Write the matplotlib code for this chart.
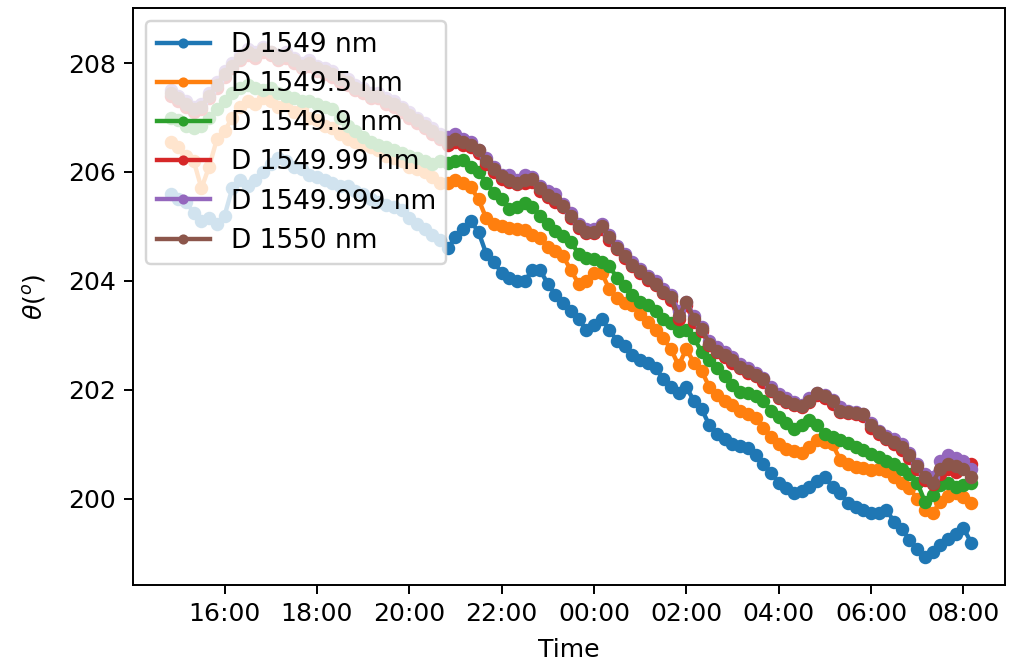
import matplotlib
matplotlib.use("Agg")
import matplotlib.pyplot as plt
import matplotlib.dates as mdates
import pandas as pd

# Sampling times: one reading every 10 minutes, overnight run
times = pd.date_range("2021-06-01 14:50", periods=105, freq="10min")

labels = ["D 1549 nm", "D 1549.5 nm", "D 1549.9 nm",
          "D 1549.99 nm", "D 1549.999 nm", "D 1550 nm"]

theta_1549 = [
    205.6, 205.5, 205.45, 205.25, 205.1, 205.15, 205.05, 205.2, 205.7, 205.85,
    205.75, 205.85, 206.0, 206.15, 206.25, 206.2, 206.1, 206.05, 205.95, 205.9,
    205.85, 205.8, 205.75, 205.75, 205.65, 205.6, 205.5, 205.45, 205.4, 205.35,
    205.3, 205.15, 205.05, 204.95, 204.85, 204.75, 204.6, 204.8, 204.95, 205.1,
    204.9, 204.5, 204.35, 204.15, 204.05, 204.0, 204.0, 204.2, 204.2, 203.95,
    203.75, 203.6, 203.45, 203.3, 203.1, 203.2, 203.3, 203.1, 202.9, 202.8,
    202.65, 202.55, 202.5, 202.4, 202.2, 202.05, 201.95, 202.05, 201.8, 201.65,
    201.35, 201.2, 201.1, 201.0, 200.97, 200.93, 200.8, 200.65, 200.48, 200.3,
    200.2, 200.1, 200.15, 200.22, 200.33, 200.4, 200.22, 200.1, 199.93, 199.85,
    199.8, 199.75, 199.74, 199.8, 199.58, 199.45, 199.25, 199.08, 198.94, 199.03,
    199.15, 199.27, 199.35, 199.47, 199.2,
]

theta_1549_5 = [
    206.55, 206.45, 206.3, 206.2, 205.7, 206.1, 206.6, 206.75, 207.0, 207.2,
    207.3, 207.25, 207.35, 207.3, 207.2, 207.25, 207.1, 207.15, 207.0, 206.95,
    206.85, 206.8, 206.7, 206.6, 206.55, 206.5, 206.45, 206.4, 206.3, 206.25,
    206.2, 206.1, 206.05, 206.0, 205.9, 205.8, 205.8, 205.85, 205.8, 205.72,
    205.5, 205.15, 205.05, 205.0, 204.98, 204.95, 204.93, 204.85, 204.78, 204.63,
    204.55, 204.45, 204.2, 203.95, 204.0, 204.15, 204.15, 203.85, 203.68, 203.6,
    203.55, 203.4, 203.25, 203.1, 202.95, 202.75, 202.45, 202.75, 202.5, 202.35,
    202.05, 201.9, 201.8, 201.72, 201.62, 201.55, 201.48, 201.3, 201.14, 201.0,
    200.92, 200.88, 200.84, 200.95, 201.08, 201.05, 201.0, 200.72, 200.65, 200.59,
    200.56, 200.53, 200.55, 200.52, 200.4, 200.3, 200.2, 200.0, 199.8, 199.74,
    199.95, 200.06, 200.1, 200.04, 199.93,
]

theta_1549_9 = [
    207.0, 206.95, 206.85, 206.8, 206.85, 207.0, 207.15, 207.3, 207.45, 207.55,
    207.6, 207.55, 207.5, 207.55, 207.45, 207.4, 207.35, 207.3, 207.3, 207.25,
    207.2, 207.15, 207.0, 206.85, 206.75, 206.65, 206.55, 206.5, 206.45, 206.4,
    206.35, 206.3, 206.25, 206.2, 206.15, 206.2, 206.17, 206.2, 206.22, 206.1,
    206.0, 205.8, 205.62, 205.5, 205.32, 205.35, 205.43, 205.36, 205.2, 205.05,
    204.92, 204.82, 204.72, 204.5, 204.42, 204.4, 204.35, 204.28, 204.05, 203.9,
    203.75, 203.62, 203.55, 203.45, 203.3, 203.22, 203.08, 203.1, 202.95, 202.7,
    202.55, 202.4, 202.25, 202.1, 201.97, 201.95, 201.88, 201.8, 201.62, 201.5,
    201.4, 201.28, 201.35, 201.45, 201.35, 201.2, 201.14, 201.08, 201.03, 200.95,
    200.9, 200.83, 200.77, 200.7, 200.64, 200.55, 200.45, 200.3, 199.95, 200.08,
    200.25, 200.3, 200.22, 200.25, 200.3,
]

theta_1549_99 = [
    207.4, 207.3, 207.2, 207.1, 207.15, 207.35, 207.55, 207.75, 207.9, 208.05,
    208.15, 208.1, 208.2, 208.15, 208.05, 208.1, 208.0, 207.9, 207.95, 207.85,
    207.8, 207.75, 207.65, 207.6, 207.5, 207.45, 207.35, 207.35, 207.25, 207.2,
    207.1, 207.0, 206.9, 206.8, 206.7, 206.6, 206.5, 206.55, 206.5, 206.45,
    206.35, 206.15, 206.0, 205.88, 205.82, 205.78, 205.8, 205.82, 205.65, 205.55,
    205.45, 205.35, 205.15, 204.98, 204.88, 204.88, 204.95, 204.75, 204.58, 204.42,
    204.28, 204.15, 204.02, 203.92, 203.78, 203.65, 203.3, 203.55, 203.25, 203.08,
    202.82, 202.7, 202.6, 202.5, 202.4, 202.32, 202.25, 202.15, 201.98, 201.85,
    201.78, 201.72, 201.68, 201.78, 201.9, 201.85, 201.75, 201.6, 201.58, 201.56,
    201.52, 201.3, 201.2, 201.1, 201.0, 200.9, 200.75, 200.55, 200.35, 200.28,
    200.45, 200.55, 200.5, 200.6, 200.65,
]

theta_1549_999 = [
    207.5, 207.4, 207.3, 207.2, 207.25, 207.45, 207.65, 207.85, 208.0, 208.15,
    208.25, 208.2, 208.3, 208.2, 208.15, 208.2, 208.1, 208.0, 208.05, 207.95,
    207.9, 207.85, 207.75, 207.7, 207.6, 207.55, 207.45, 207.45, 207.35, 207.3,
    207.2, 207.1, 207.0, 206.9, 206.8, 206.7, 206.65, 206.7, 206.6, 206.55,
    206.4, 206.25, 206.1, 205.95, 205.95, 205.85, 205.95, 205.9, 205.75, 205.65,
    205.6, 205.42, 205.25, 205.05, 204.95, 204.95, 205.05, 204.85, 204.65, 204.5,
    204.35, 204.22, 204.1, 204.0, 203.85, 203.75, 203.45, 203.62, 203.35, 203.15,
    202.9, 202.78, 202.7, 202.6, 202.48, 202.4, 202.32, 202.22, 202.05, 201.92,
    201.85, 201.78, 201.72, 201.85, 201.95, 201.9, 201.82, 201.68, 201.62, 201.6,
    201.55, 201.4, 201.25, 201.15, 201.1, 201.0, 200.85, 200.65, 200.45, 200.4,
    200.7, 200.8, 200.75, 200.7, 200.55,
]

theta_1550 = [
    207.45, 207.35, 207.25, 207.15, 207.2, 207.4, 207.6, 207.8, 207.95, 208.1,
    208.2, 208.15, 208.25, 208.2, 208.1, 208.15, 208.05, 207.95, 208.0, 207.9,
    207.85, 207.8, 207.7, 207.65, 207.55, 207.5, 207.4, 207.4, 207.3, 207.25,
    207.15, 207.05, 206.95, 206.85, 206.75, 206.65, 206.55, 206.6, 206.55, 206.5,
    206.4, 206.2, 206.05, 205.92, 205.85, 205.8, 205.85, 205.88, 205.7, 205.58,
    205.5, 205.38, 205.2, 205.0, 204.9, 204.9, 205.0, 204.8, 204.6, 204.45,
    204.3, 204.18, 204.05, 203.95, 203.8, 203.7, 203.35, 203.62, 203.3, 203.12,
    202.85, 202.72, 202.65, 202.55, 202.42, 202.35, 202.28, 202.2, 202.0, 201.87,
    201.8, 201.75, 201.7, 201.8, 201.95, 201.88, 201.8, 201.62, 201.6, 201.58,
    201.55, 201.35, 201.22, 201.12, 201.05, 200.95, 200.8, 200.6, 200.4, 200.3,
    200.55, 200.65, 200.6, 200.55, 200.4,
]

series = [theta_1549, theta_1549_5, theta_1549_9,
          theta_1549_99, theta_1549_999, theta_1550]

fig = plt.figure(figsize=(1012 / 176, 666 / 176), dpi=176)
ax = fig.add_axes([0.1314, 0.1216, 0.993 - 0.1314, 0.988 - 0.1216])

for vals, lab in zip(series, labels):
    ax.plot(times, vals, ".-", markersize=9, linewidth=1.8, label=lab)

ax.xaxis.set_major_locator(mdates.HourLocator(byhour=range(0, 24, 2)))
ax.xaxis.set_major_formatter(mdates.DateFormatter("%H:%M"))
ax.set_xlim(pd.Timestamp("2021-06-01 14:01"), pd.Timestamp("2021-06-02 08:54"))
ax.set_ylim(198.42, 209.01)
ax.set_yticks([200, 202, 204, 206, 208])
ax.tick_params(labelsize=10.3)

ax.set_xlabel("Time", fontsize=10.3, labelpad=5)
ax.set_ylabel(r"$\theta (^o)$", fontsize=10.3, labelpad=8)
ax.legend(loc="upper left", fontsize=10.8, markerscale=0.7)

fig.savefig("out.png", dpi=176)
